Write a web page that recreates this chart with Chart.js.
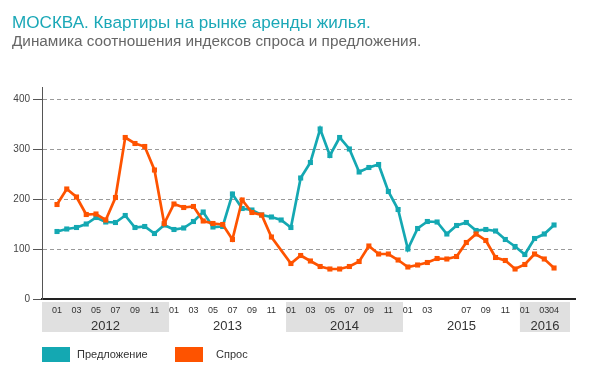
<!DOCTYPE html>
<html><head><meta charset="utf-8">
<script src="https://cdn.jsdelivr.net/npm/chart.js@4.4.0/dist/chart.umd.min.js"></script>
<style>
html,body{margin:0;padding:0;background:#fff;}
#wrap{position:relative;width:600px;height:376px;overflow:hidden;font-family:"Liberation Sans",Arial,sans-serif;}
canvas{position:absolute;left:0;top:0;}
#t1{position:absolute;left:12px;top:14px;font-size:17.1px;line-height:18px;color:#1ba8b7;white-space:nowrap;}
#t2{position:absolute;left:12px;top:33px;font-size:15.3px;line-height:16px;color:#666;white-space:nowrap;}
.sw{position:absolute;top:347px;width:28px;height:15px;}
.lt{position:absolute;top:348px;font-size:11px;line-height:13px;color:#333;white-space:nowrap;}
</style></head>
<body>
<div id="wrap">
<canvas id="c" width="600" height="376"></canvas>
<div id="t1">МОСКВА. Квартиры на рынке аренды жилья.</div>
<div id="t2">Динамика соотношения индексов спроса и предложения.</div>
<div class="sw" style="left:42px;background:#14a8b2"></div>
<div class="lt" style="left:77px">Предложение</div>
<div class="sw" style="left:175px;background:#fe5300"></div>
<div class="lt" style="left:216px">Спрос</div>
</div>
<script>
const categories = [
 '2012-01','2012-02','2012-03','2012-04','2012-05','2012-06','2012-07','2012-08','2012-09','2012-10','2012-11','2012-12',
 '2013-01','2013-02','2013-03','2013-04','2013-05','2013-06','2013-07','2013-08','2013-09','2013-10','2013-11','2013-12',
 '2014-01','2014-02','2014-03','2014-04','2014-05','2014-06','2014-07','2014-08','2014-09','2014-10','2014-11','2014-12',
 '2015-01','2015-02','2015-03','2015-04','2015-05','2015-06','2015-07','2015-08','2015-09','2015-10','2015-11','2015-12',
 '2016-01','2016-02','2016-03','2016-04'];
const supply = [135,140,143,150,163,154,153,167,143,145,131,148,139,142,155,174,144,145,210,181,178,168,164,158,143,242,273,340,287,323,300,254,263,269,215,179,100,141,155,154,130,147,153,137,139,136,119,105,89,121,130,148];
const demand = [189,220,204,169,170,158,203,323,311,305,258,151,190,183,185,156,151,149,119,198,173,168,124,null,71,87,76,65,60,60,65,75,106,90,90,78,64,68,73,81,80,85,113,130,117,83,77,60,69,90,80,62];
const yTicks = [0,100,200,300,400];
const xTickIndex = [0,2,4,6,8,10, 12,14,16,18,20,22, 24,26,28,30,32,34, 36,38,42,44,46, 48,50,51];
const xTickLabels = ['01','03','05','07','09','11','01','03','05','07','09','11','01','03','05','07','09','11','01','03','07','09','11','01','03','04'];
const years = ['2012','2013','2014','2015','2016'];
const yearFirstIndex = [0,12,24,36,48];

const toPts = arr => arr.map((v,i)=>({x:i,y:v}));

const bandsPlugin = {
  id:'bands',
  beforeDraw(chart){
    const {ctx, chartArea} = chart;
    const x = chart.scales.x;
    ctx.save();
    years.forEach((yr,k)=>{
      const a = k===0 ? x.left : x.getPixelForValue(yearFirstIndex[k]-0.5);
      const b = k===years.length-1 ? x.right - 5 : x.getPixelForValue(yearFirstIndex[k+1]-0.5);
      if(k%2===0){ ctx.fillStyle='#e0e0e0'; ctx.fillRect(a, chartArea.bottom+3, b-a, 30); }
      ctx.fillStyle='#333';
      ctx.font='13px "Liberation Sans", Arial, sans-serif';
      ctx.textAlign='center'; ctx.textBaseline='middle';
      ctx.fillText(yr, (a+b)/2, chartArea.bottom+27);
    });
    ctx.restore();
  }
};

new Chart(document.getElementById('c'), {
  type:'line',
  data:{
    datasets:[
      {label:'Спрос', data:toPts(demand), borderColor:'#fe5300', backgroundColor:'#fe5300', borderWidth:2.7,
       pointStyle:'rect', pointRadius:3.6, pointBorderWidth:0, pointBackgroundColor:'#fe5300', spanGaps:true, tension:0},
      {label:'Предложение', data:toPts(supply), borderColor:'#14a8b2', backgroundColor:'#14a8b2', borderWidth:2.7,
       pointStyle:'rect', pointRadius:3.6, pointBorderWidth:0, pointBackgroundColor:'#14a8b2', tension:0}
    ]
  },
  options:{
    responsive:false, animation:false, devicePixelRatio:1,
    layout:{padding:{top:87,left:0,right:25,bottom:0}},
    plugins:{legend:{display:false}, tooltip:{enabled:false}},
    scales:{
      x:{type:'linear', min:-1.54, max:53.15,
         afterBuildTicks: s => { s.ticks = xTickIndex.map(v=>({value:v})); },
         afterFit: s => { s.height = 77; },
         grid:{display:false, drawTicks:false},
         border:{display:true, color:'#222', width:2},
         ticks:{autoSkip:false, maxRotation:0, padding:6, color:'#333',
                font:{size:9, family:'"Liberation Sans", Arial, sans-serif'},
                callback:(v)=>{ const k = xTickIndex.indexOf(v); return k>=0 ? xTickLabels[k] : ''; }}
      },
      y:{min:0, max:424,
         afterBuildTicks: s => { s.ticks = yTicks.map(v=>({value:v})); },
         afterFit: s => { s.width = 42; },
         grid:{color: c => (c.tick && c.tick.value===0) ? 'rgba(0,0,0,0)' : '#9a9a9a', lineWidth:1,
               drawTicks:true, tickLength:9, tickColor:'#555', tickWidth:1},
         border:{display:true, color:'#555', width:1, dash:[4,3]},
         ticks:{padding:3, color:'#444', font:{size:10, family:'"Liberation Sans", Arial, sans-serif'}}
      }
    }
  },
  plugins:[bandsPlugin]
});
</script>
</body></html>
